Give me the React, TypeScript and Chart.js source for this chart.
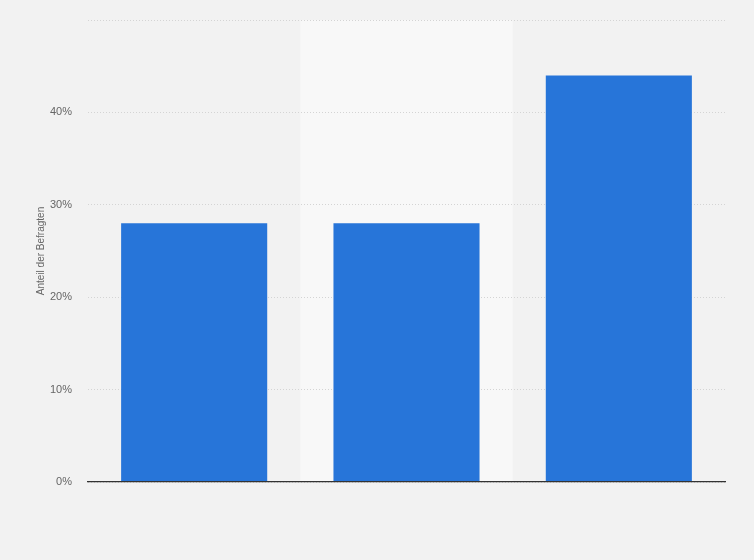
import { useEffect, useRef } from "react"
import { Chart, registerables, type ChartConfiguration, type Plugin } from "chart.js"

Chart.register(...registerables)

// Data
const categories = ["Kategorie 1", "Kategorie 2", "Kategorie 3"]
const shares = [28, 28, 44]
const yTicks = [0, 10, 20, 30, 40, 50]
const yTickLabels = ["0%", "10%", "20%", "30%", "40%", ""]

const BAR_COLOR = "#2775d9"
const BG_COLOR = "#f2f2f2"
const BAND_COLOR = "#f8f8f8"

// Lighter background band behind every second category
const bandPlugin: Plugin<"bar"> = {
  id: "categoryBands",
  beforeDraw(chart) {
    const { ctx, chartArea, scales } = chart
    const x = scales.x
    const step = x.width / categories.length
    ctx.save()
    ctx.fillStyle = BG_COLOR
    ctx.fillRect(0, 0, chart.width, chart.height)
    ctx.fillStyle = BAND_COLOR
    categories.forEach((_, i) => {
      if (i % 2 === 1) {
        const cx = x.getPixelForValue(i)
        ctx.fillRect(cx - step / 2, chartArea.top, step, chartArea.bottom - chartArea.top)
      }
    })
    ctx.restore()
  },
}

export default function App() {
  const chartRef = useRef<HTMLCanvasElement>(null)
  const chartInstance = useRef<Chart | null>(null)

  useEffect(() => {
    if (!chartRef.current) return
    document.body.style.margin = "0"

    const config: ChartConfiguration<"bar"> = {
      type: "bar",
      data: {
        labels: categories,
        datasets: [
          {
            label: "Anteil der Befragten",
            data: shares,
            backgroundColor: BAR_COLOR,
            borderWidth: 0,
            categoryPercentage: 0.688,
            barPercentage: 1,
          },
        ],
      },
      options: {
        animation: false,
        responsive: true,
        maintainAspectRatio: false,
        layout: { padding: { left: 0, right: 29, top: 20, bottom: 78 } },
        plugins: {
          legend: { display: false },
          tooltip: { enabled: false },
        },
        scales: {
          x: {
            ticks: { display: false },
            grid: { display: false, drawTicks: false },
            border: { display: true, color: "#333333", width: 1.3, z: 1 },
            afterFit: (scale) => {
              scale.height = 0
            },
          },
          y: {
            min: 0,
            max: 50,
            afterBuildTicks: (scale) => {
              scale.ticks = yTicks.map((v) => ({ value: v }))
            },
            afterFit: (scale) => {
              scale.width = 88
              scale.paddingTop = 0
            },
            ticks: {
              padding: 16,
              color: "#666666",
              font: { family: "'Liberation Sans', Arial, sans-serif", size: 11 },
              callback: (_v, i) => yTickLabels[i],
            },
            grid: {
              color: "#d4d4d4",
              lineWidth: 1,
              drawTicks: false,
            },
            border: { display: false, dash: [1, 2] },
            title: {
              display: true,
              text: "Anteil der Befragten",
              color: "#666666",
              font: { family: "'Liberation Sans', Arial, sans-serif", size: 10 },
              padding: { top: 35, bottom: 0 },
            },
          },
        },
      },
      plugins: [bandPlugin],
    }

    if (chartInstance.current) chartInstance.current.destroy()
    chartInstance.current = new Chart(chartRef.current, config)

    return () => {
      if (chartInstance.current) {
        chartInstance.current.destroy()
        chartInstance.current = null
      }
    }
  }, [])

  return (
    <div style={{ position: "relative", width: 754, height: 560, background: BG_COLOR }}>
      <canvas ref={chartRef} />
    </div>
  )
}
